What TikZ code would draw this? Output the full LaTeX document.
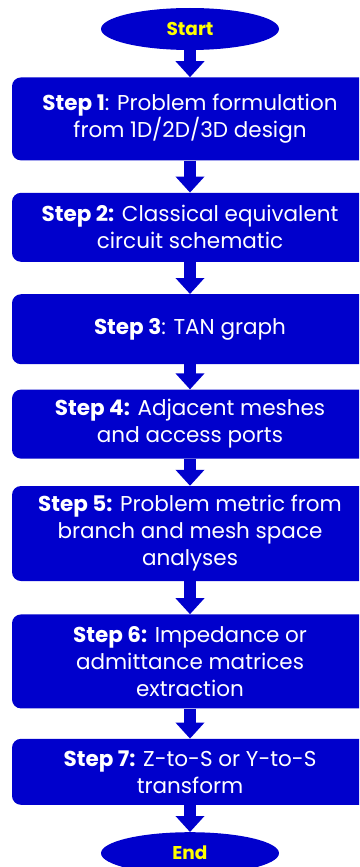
\documentclass[tikz,border=0pt]{standalone}
\usepackage{fontspec}
\setsansfont{Poppins}
\usetikzlibrary{arrows.meta,positioning,shapes.geometric}
\definecolor{FlowBlue}{HTML}{0000CC}
\definecolor{FlowYellow}{HTML}{FFFF00}

\begin{document}
\begin{tikzpicture}[x=1pt,y=-1pt,
    stepbox/.style={fill=FlowBlue, rounded corners=9pt, minimum width=356pt,
      inner sep=0pt, align=center, text=white,
      font=\sffamily\fontsize{21.5}{27}\selectfont},
    terminal/.style={ellipse, fill=FlowBlue, minimum width=178pt, minimum height=42pt,
      inner sep=0pt, text=FlowYellow, font=\sffamily\bfseries\fontsize{18.5}{20}\selectfont},
    arrow/.style={-{Triangle[width=28pt,length=16pt]}, line width=12pt, draw=FlowBlue}
  ]
    \clip (0,0) rectangle (359,867);
    \node[terminal] (start) at (190,29) {Start};
    \node[stepbox, minimum height=83pt, below=27pt of start] (s1)
      {\textbf{Step 1}: Problem formulation\\from 1D/2D/3D design};
    \node[stepbox, minimum height=69pt, below=32pt of s1] (s2)
      {\textbf{Step 2:} Classical equivalent\\circuit schematic};
    \node[stepbox, minimum height=70pt, below=32pt of s2] (s3)
      {\textbf{Step 3}: TAN graph};
    \node[stepbox, minimum height=69pt, below=25pt of s3] (s4)
      {\textbf{Step 4:} Adjacent meshes\\and access ports};
    \node[stepbox, minimum height=95pt, below=27pt of s4] (s5)
      {\textbf{Step 5:} Problem metric from\\branch and mesh space\\analyses};
    \node[stepbox, minimum height=94pt, below=33pt of s5] (s6)
      {\textbf{Step 6:} Impedance or\\admittance matrices\\extraction};
    \node[stepbox, minimum height=66pt, below=30pt of s6] (s7)
      {\textbf{Step 7:} Z-to-S or Y-to-S\\transform};
    \node[terminal, below=27pt of s7] (end) {End};
    \draw[arrow] (start) -- (s1);
    \draw[arrow] (s1) -- (s2);
    \draw[arrow] (s2) -- (s3);
    \draw[arrow] (s3) -- (s4);
    \draw[arrow] (s4) -- (s5);
    \draw[arrow] (s5) -- (s6);
    \draw[arrow] (s6) -- (s7);
    \draw[arrow] (s7) -- (end);
  \end{tikzpicture}
\end{document}
